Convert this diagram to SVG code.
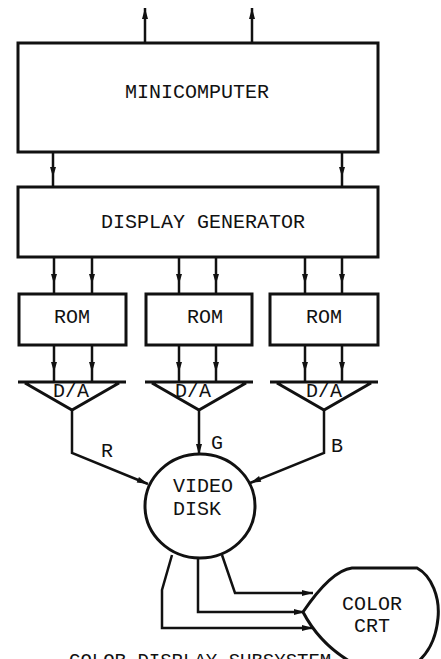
<svg xmlns="http://www.w3.org/2000/svg" width="441" height="659" viewBox="0 0 441 659">
<defs>
<style>
.box{fill:#fff;stroke:#111;stroke-width:3}
.ln{fill:none;stroke:#111;stroke-width:2.5;stroke-linejoin:miter}
.t{font-family:"Liberation Mono","Courier New",monospace;font-size:20px;fill:#111;text-anchor:middle}
.a{marker-end:url(#ah)}
.a0{marker-end:url(#ah0)}
</style>
<marker id="ah" markerUnits="userSpaceOnUse" viewBox="0 0 24 10" markerWidth="24" markerHeight="10" refX="22" refY="5" orient="auto">
<path d="M2,2 L12,5 L2,8 Z" fill="#111"/>
</marker>
<marker id="ah0" markerUnits="userSpaceOnUse" viewBox="0 0 14 10" markerWidth="14" markerHeight="10" refX="12" refY="5" orient="auto">
<path d="M1,2 L12,5 L1,8 Z" fill="#111"/>
</marker>
</defs>
<text class="t" x="69" y="666" style="text-anchor:start;font-size:19px">COLOR DISPLAY SUBSYSTEM</text>
<g id="connectors">
<line class="ln a0" x1="145" y1="43" x2="145" y2="8"/>
<line class="ln a0" x1="252" y1="43" x2="252" y2="8"/>
<line class="ln a" x1="53" y1="152" x2="53" y2="187"/>
<line class="ln a" x1="342" y1="152" x2="342" y2="187"/>
<line class="ln a" x1="54" y1="257" x2="54" y2="294"/>
<line class="ln a" x1="92" y1="257" x2="92" y2="294"/>
<line class="ln a" x1="179" y1="257" x2="179" y2="294"/>
<line class="ln a" x1="216" y1="257" x2="216" y2="294"/>
<line class="ln a" x1="305" y1="257" x2="305" y2="294"/>
<line class="ln a" x1="342" y1="257" x2="342" y2="294"/>
<line class="ln a" x1="54" y1="345" x2="54" y2="382"/>
<line class="ln a" x1="92" y1="345" x2="92" y2="382"/>
<line class="ln a" x1="179" y1="345" x2="179" y2="382"/>
<line class="ln a" x1="216" y1="345" x2="216" y2="382"/>
<line class="ln a" x1="305" y1="345" x2="305" y2="382"/>
<line class="ln a" x1="342" y1="345" x2="342" y2="382"/>
<polyline class="ln a0" points="72,410 72,453 148,484"/>
<line class="ln a0" x1="199" y1="410" x2="199" y2="455"/>
<polyline class="ln a0" points="324,410 324,453 250,483"/>
<polyline class="ln a0" points="172,555 162,590 162,628 313,628"/>
<polyline class="ln a0" points="198,557 198,612 305,612"/>
<polyline class="ln a0" points="222,555 235,593 313,593"/>
<text class="t" x="107" y="457">R</text>
<text class="t" x="217" y="449">G</text>
<text class="t" x="337" y="452">B</text>
</g>
<g id="minicomputer">
<rect class="box" x="18" y="43" width="360" height="109"/>
<text class="t" x="197" y="98">MINICOMPUTER</text>
</g>
<g id="display-generator">
<rect class="box" x="18" y="187" width="360" height="70"/>
<text class="t" x="203" y="228">DISPLAY GENERATOR</text>
</g>
<g id="rom1">
<rect class="box" x="19" y="294" width="107" height="51"/>
<text class="t" x="72" y="323">ROM</text>
</g>
<g id="rom2">
<rect class="box" x="146" y="294" width="106" height="51"/>
<text class="t" x="205" y="323">ROM</text>
</g>
<g id="rom3">
<rect class="box" x="270" y="294" width="108" height="51"/>
<text class="t" x="324" y="323">ROM</text>
</g>
<g id="da1">
<path class="ln" d="M18,382 L126,382 M25,383 L72,410 L119,383" style="stroke-width:3"/>
<text class="t" x="71" y="397">D/A</text>
</g>
<g id="da2">
<path class="ln" d="M145,382 L253,382 M152,383 L199,410 L246,383" style="stroke-width:3"/>
<text class="t" x="193" y="397">D/A</text>
</g>
<g id="da3">
<path class="ln" d="M270,382 L378,382 M277,383 L324,410 L371,383" style="stroke-width:3"/>
<text class="t" x="324" y="397">D/A</text>
</g>
<g id="video-disk">
<ellipse class="box" cx="200" cy="506" rx="55" ry="52"/>
<text class="t" x="173" y="492" style="text-anchor:start">VIDEO</text>
<text class="t" x="173" y="515" style="text-anchor:start">DISK</text>
</g>
<g id="color-crt">
<path class="box" d="M303,612 C318,590 335,570 352,568 L417,568 C432,576 440,598 438,618 C436,640 428,656 410,668 L362,668 C335,655 315,635 303,612 Z"/>
<text class="t" x="372" y="610">COLOR</text>
<text class="t" x="372" y="632">CRT</text>
</g>
</svg>
